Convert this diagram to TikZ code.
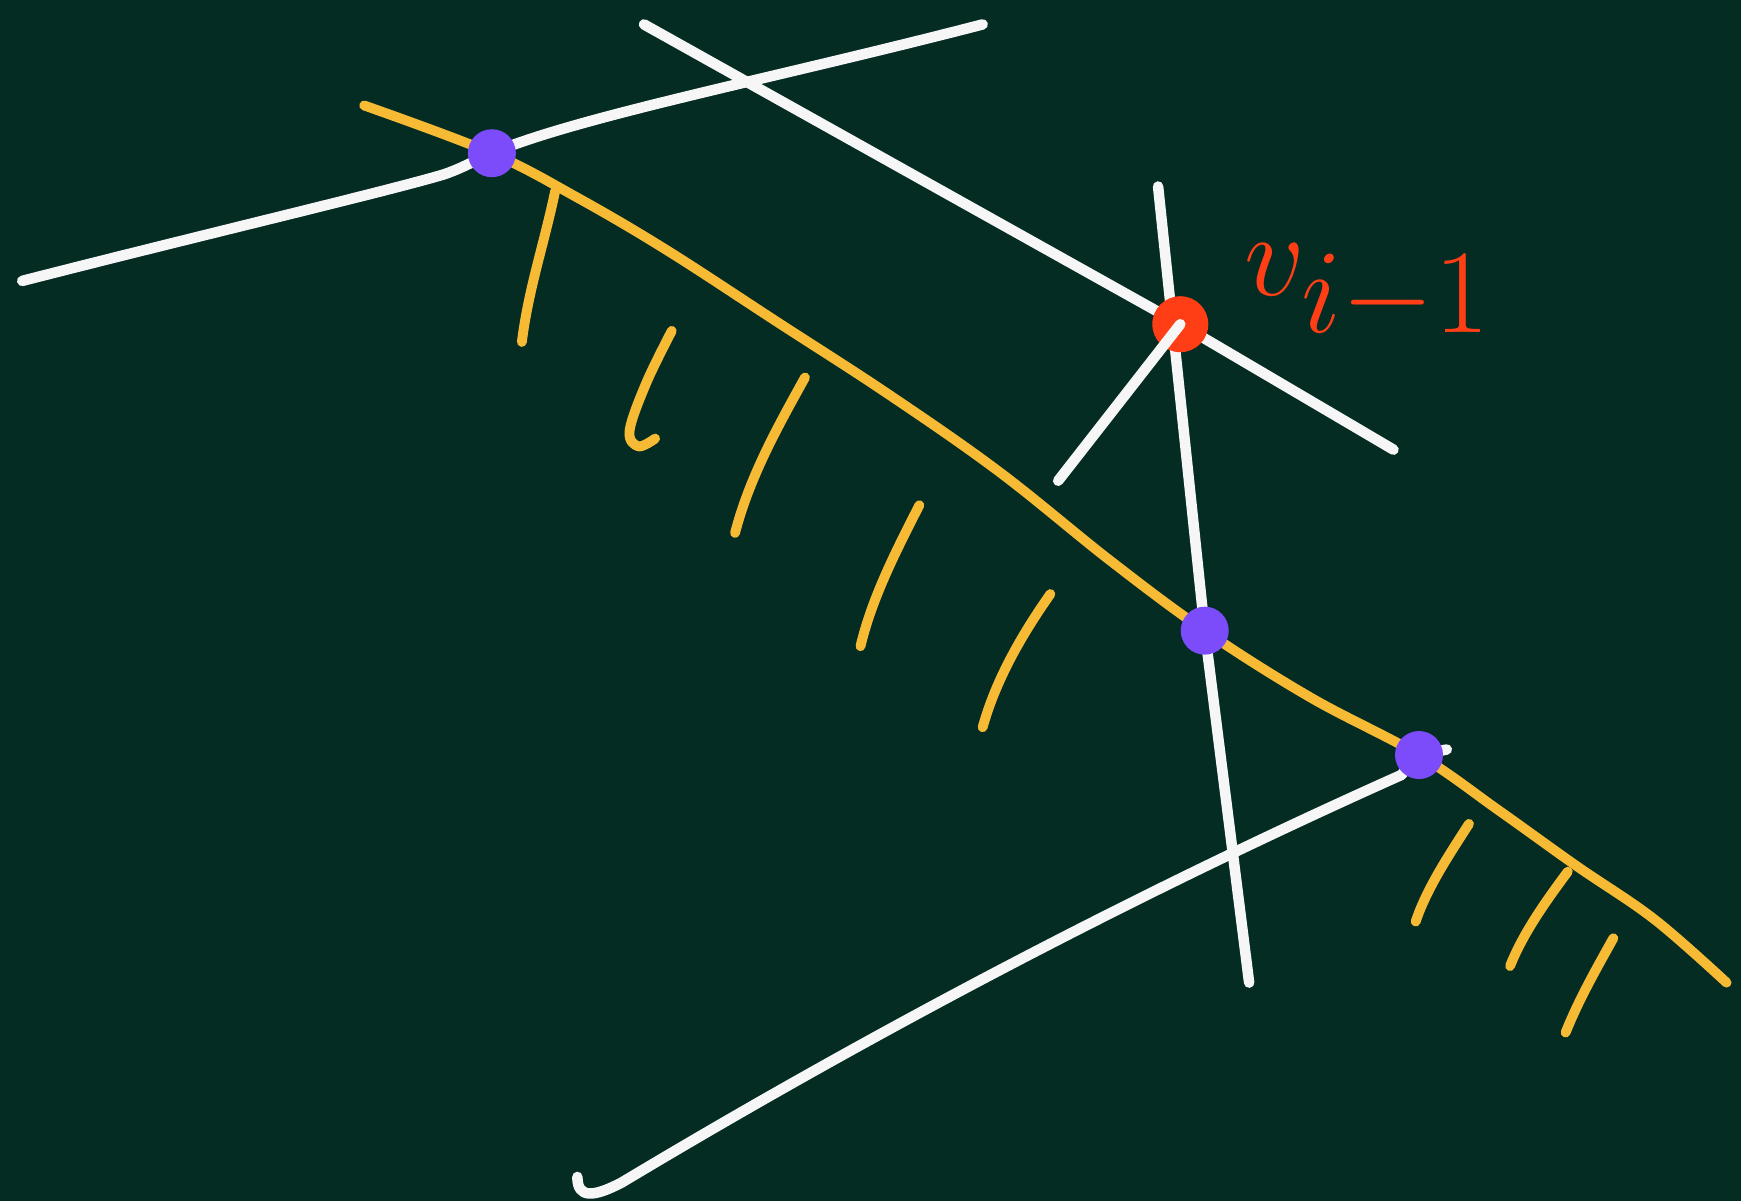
\documentclass[tikz,border=0pt]{standalone}
\usepackage{fix-cm}
\usepackage{xcolor}
\usepackage{tikz}
\usetikzlibrary{positioning}
\definecolor{board}{RGB}{4,44,35}
\definecolor{chalk}{RGB}{246,246,246}
\definecolor{marker}{RGB}{247,186,52}
\definecolor{hitpurple}{RGB}{124,76,250}
\definecolor{vtxred}{RGB}{255,62,22}
\tikzset{
  chalkline/.style={draw=chalk, line width=3pt, line cap=round, line join=round},
  hullline/.style={draw=marker, line width=2.8pt, line cap=round, line join=round},
  hatchline/.style={hullline},
  hitdot/.style={circle, fill=hitpurple, inner sep=0pt, minimum size=0.48cm},
  vtxdot/.style={circle, fill=vtxred, inner sep=0pt, minimum size=0.56cm}
}

\begin{document}
\begin{tikzpicture}[x=0.011103cm, y=-0.011103cm]

% board
\fill[board] (0,0) rectangle (1568,1082);
\useasboundingbox (0,0) rectangle (1568,1082);

% points
\coordinate (p1) at (443,138);
\coordinate (p2) at (1085,568);
\coordinate (p3) at (1278,680);
\coordinate (v)  at (1063,292);

% white lines
\draw[chalkline] (20,253) .. controls (180,212) and (350,172) .. (400,157) .. controls (420,150) and (430,143) .. (p1)
                 .. controls (520,105) and (700,70) .. (885,22);
\draw[chalkline] (580,22) -- (v) -- (1255,405);
\draw[chalkline] (1043,168) -- (p2) -- (1125,885);
\draw[chalkline] (520,1060) .. controls (520,1080) and (535,1078) .. (560,1065)
                 .. controls (760,945) and (1000,815) .. (1262,698) -- (p3) -- (1303,675);

% hull edge
\draw[hullline] plot[smooth, tension=0.6] coordinates {(328,95) (p1) (520,178) (600,225) (700,290) (800,355) (900,425) (1000,505) (p2) (1180,628) (p3) (1350,730) (1420,780) (1490,828) (1555,885)};

% hatching
\draw[hatchline] (500,172) .. controls (490,220) and (476,260) .. (470,308);
\draw[hatchline] plot[smooth, tension=0.6] coordinates {(605,298) (582,345) (567,388) (575,402) (590,395)};
\draw[hatchline] (725,340) .. controls (700,385) and (675,430) .. (662,480);
\draw[hatchline] (828,455) .. controls (805,500) and (785,540) .. (775,582);
\draw[hatchline] (946,535) .. controls (920,572) and (897,612) .. (885,655);
\draw[hatchline] (1323,742) .. controls (1305,770) and (1285,800) .. (1275,830);
\draw[hatchline] (1412,785) .. controls (1392,812) and (1372,840) .. (1360,870);
\draw[hatchline] (1453,845) .. controls (1438,872) and (1422,900) .. (1410,930);

% dots
\node[hitdot] (d1) at (p1) {};
\node[hitdot] (d2) at (p2) {};
\node[hitdot] (d3) at (p3) {};
\node[vtxdot] (d0) at (v) {};
\draw[chalkline] (v) -- (953,433);

% label
\node[text=vtxred, inner sep=0pt, font=\fontsize{34}{40}\selectfont, right=0.35cm of d0, yshift=0.31cm] (lbl) {$v_{\textstyle i{-}1}$};

\end{tikzpicture}
\end{document}
